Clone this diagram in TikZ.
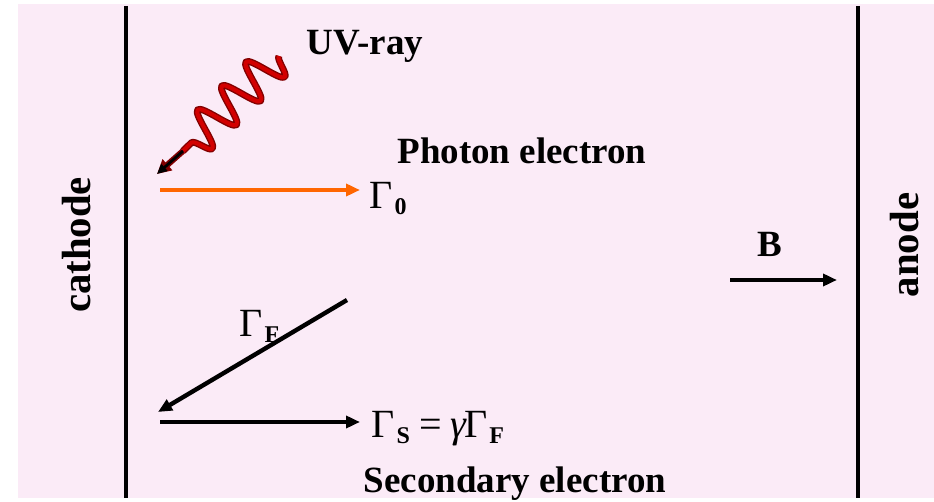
\documentclass[tikz,border=0pt]{standalone}
\usepackage{fontspec}
\setmainfont{Liberation Serif}
\usepackage{xcolor}
\usetikzlibrary{arrows.meta,decorations.pathmorphing}
\definecolor{pinkbg}{RGB}{251,235,247}
\definecolor{photon}{RGB}{255,102,0}
\definecolor{uvred}{RGB}{210,0,0}
\definecolor{uvdark}{RGB}{130,0,0}
\tikzset{
  electrode/.style={draw=black, line width=2pt},
  lbl/.style={font=\fontsize{18.5}{20}\selectfont\bfseries, inner sep=0pt},
  sidelbl/.style={font=\fontsize{20.4}{22}\selectfont\bfseries, inner sep=0pt, rotate=90},
  glbl/.style={font=\fontsize{20}{22}\selectfont, inner sep=0pt, anchor=base west},
  Ee/.style={draw=black, line width=2.2pt, -{Triangle[length=7pt,width=6pt]}},
  Pe/.style={draw=photon, line width=2.2pt, -{Triangle[length=7pt,width=6pt]}},
  uvwave/.style={line width=#1, line join=round, decorate,
    decoration={snake, amplitude=9.5pt, segment length=17pt, pre length=0pt, post length=0pt}}
}
\newcommand{\gsub}[1]{Γ\kern1pt\raisebox{-3pt}{\fontsize{12}{13}\selectfont\bfseries #1}}

\begin{document}
\begin{tikzpicture}[x=0.5pt, y=-0.5pt]
    \useasboundingbox (0,0) rectangle (934,502);
    \fill[pinkbg] (18,4) rectangle (934,498);
    % electrodes
    \coordinate (ctop) at (126,6); \coordinate (cbot) at (126,498);
    \coordinate (atop) at (858,6); \coordinate (abot) at (858,498);
    \draw[electrode] (ctop)--(cbot);
    \draw[electrode] (atop)--(abot);
    \node[sidelbl] (cath) at (77,245) {cathode};
    \node[sidelbl] (anod) at (905,245) {anode};
    % UV photon
    \coordinate (wtop) at (279,56); \coordinate (wend) at (183,151);
    \coordinate (wtip) at (157,174);
    \draw[uvdark, uvwave=3.4pt] (wtop)--(wend);
    \draw[uvred, uvwave=2pt] (wtop)--(wend);
    \draw[draw=uvdark, line width=3pt, -{Triangle[length=7pt,width=7pt]}] (wend)--(wtip);
    \draw[draw=black, line width=1.4pt, -{Triangle[length=5pt,width=4.5pt]}] (wend)--(wtip);
    \node[lbl, anchor=base] (uv) at (365,55) {UV-ray};
    % photon electron
    \coordinate (p0) at (160,190); \coordinate (p1) at (360,190);
    \draw[Pe] (p0)--(p1);
    \node[lbl, anchor=base] (phot) at (522,164) {Photon electron};
    \node[glbl] (g0) at (369,209) {\gsub{0}};
    % fast electron back to cathode
    \coordinate (f0) at (347,300); \coordinate (f1) at (158,412);
    \draw[Ee] (f0)--(f1);
    \node[glbl] (gf) at (239,337) {\gsub{F}};
    % secondary electron
    \coordinate (s0) at (160,422); \coordinate (s1) at (360,422);
    \draw[Ee] (s0)--(s1);
    \node[glbl] (gs) at (371,438) {\gsub{S}\kern5pt=\kern4pt{\itshape γ}\kern-1pt\gsub{F}};
    \node[lbl, anchor=base] (sec) at (515,493) {Secondary electron};
    % magnetic field
    \coordinate (b0) at (730,280); \coordinate (b1) at (837,280);
    \draw[Ee] (b0)--(b1);
    \node[lbl, anchor=base] (bf) at (770,257) {B};
\end{tikzpicture}
\end{document}
